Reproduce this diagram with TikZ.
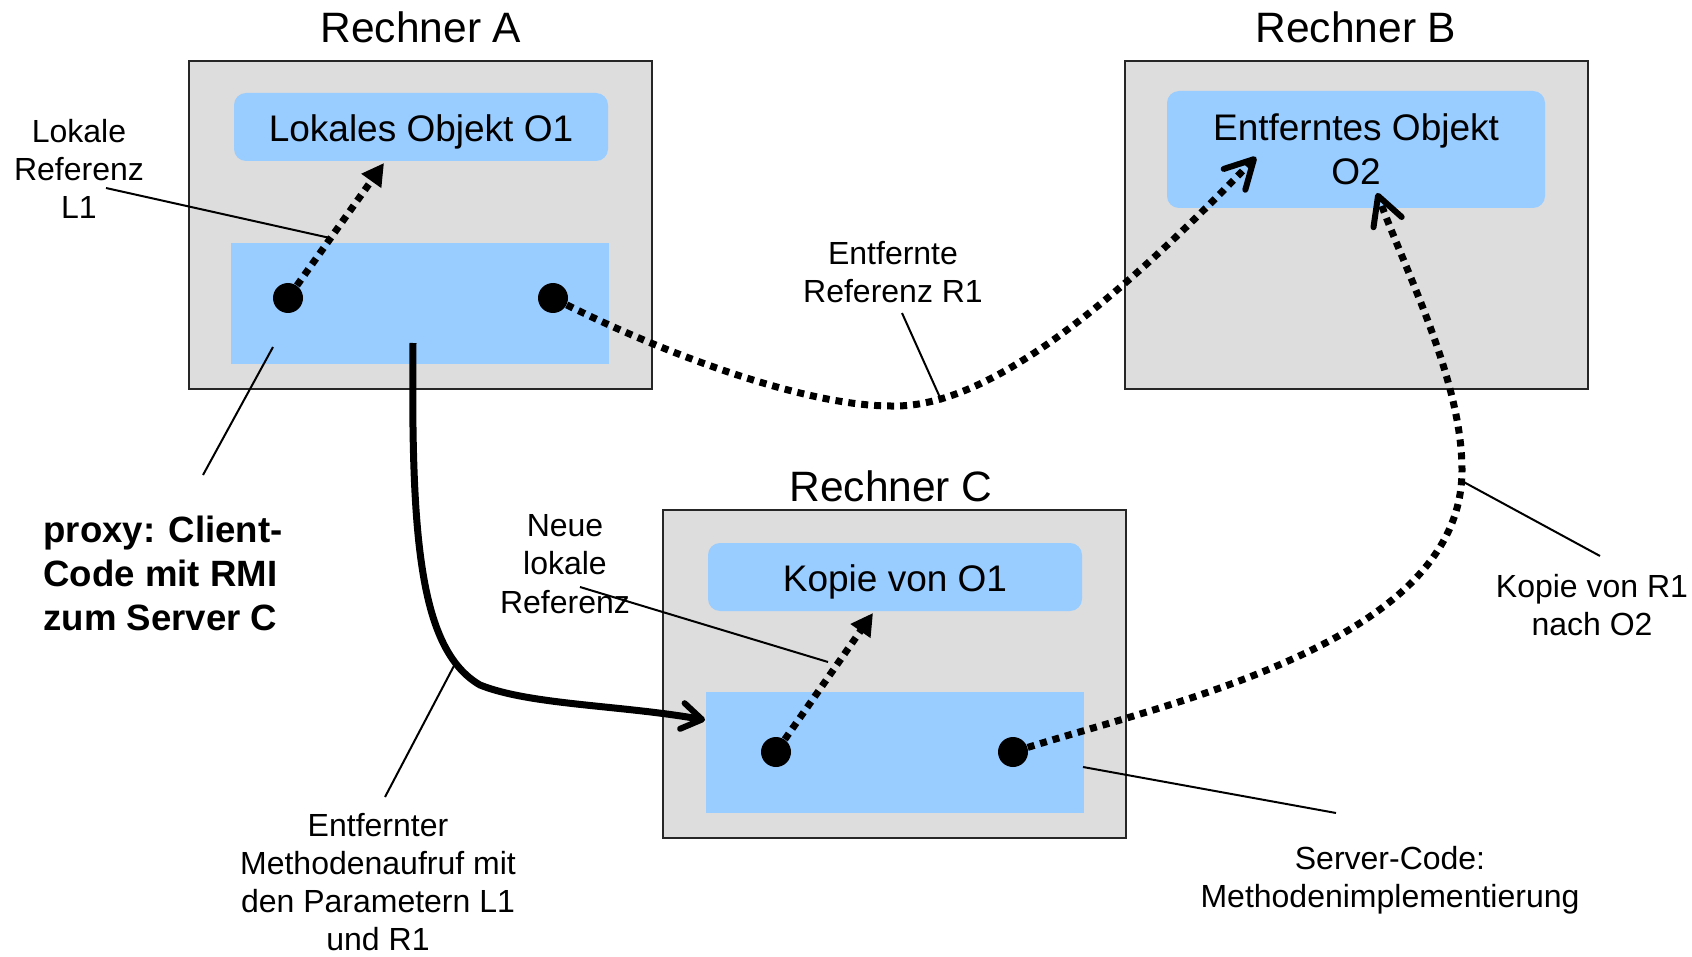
\documentclass[tikz,border=0pt]{standalone}
\usepackage{fontspec}
\setmainfont{Liberation Sans}
\usetikzlibrary{arrows.meta}
\definecolor{boxgray}{HTML}{DDDDDD}
\definecolor{objblue}{HTML}{99CCFF}
\begin{document}
\begin{tikzpicture}[x=0.5pt,y=-0.5pt,
  rechner/.style={draw=black!85,line width=1pt,fill=boxgray,minimum width=231.5pt,minimum height=164pt,inner sep=0pt},
  objbox/.style={fill=objblue,rounded corners=6pt,minimum width=187pt,minimum height=34pt,inner sep=0pt,font=\fontsize{18.5}{22}\selectfont},
  codebox/.style={fill=objblue,minimum width=189pt,minimum height=60.5pt,inner sep=0pt},
  refdot/.style={circle,fill=black,minimum size=15pt,inner sep=0pt},
  title/.style={anchor=base,font=\fontsize{21.25}{25}\selectfont,inner sep=0pt},
  lbl/.style={align=center,font=\fontsize{16}{19.1}\selectfont,inner sep=0pt},
  pointer/.style={line width=1pt},
  refarrow/.style={line width=3.5pt,dash pattern=on 3.5pt off 3pt,-{Triangle[length=11pt,width=11.5pt]}},
  remarrow/.style={line width=3.5pt,dash pattern=on 3.5pt off 3pt,-{Straight Barb[length=14pt,width=15pt,line width=3pt,round]}},
  callarrow/.style={line width=3.5pt,-{Straight Barb[length=10pt,width=13pt,line width=3pt,round]}},
]
\useasboundingbox (0,0) rectangle (1692,957);

% titles
\node[title] (tA) at (421,43) {Rechner A};
\node[title] (tB) at (1356,43) {Rechner B};
\node[title] (tC) at (891,501) {Rechner C};

% computers
\node[rechner] (A) at (420.5,225) {};
\node[rechner] (B) at (1356,225) {};
\node[rechner] (C) at (894.5,674) {};

% objects
\node[objbox,text height=15pt,text depth=0pt] (O1) at (421,127) {Lokales Objekt O1};
\node[objbox,minimum width=189pt,minimum height=58.5pt,align=center] (O2) at (1356,149.5) {Entferntes Objekt\\O2};
\node[objbox,text height=14pt,text depth=0pt] (K1) at (895,577) {Kopie von O1};

% code areas
\node[codebox] (client) at (420,303.5) {};
\node[codebox] (server) at (895,752.5) {};

% reference dots
\node[refdot] (a1) at (288,298) {};
\node[refdot] (a2) at (553,298) {};
\node[refdot] (c1) at (776,752) {};
\node[refdot] (c2) at (1013,752) {};

% arrow end points
\coordinate (ta) at (384,163);
\coordinate (tc) at (873,613);
\coordinate (tb1) at (1256,157);
\coordinate (tb2) at (1377,193);
\coordinate (callstart) at (413,343);
\coordinate (tcall) at (705,720);

% labels
\node[lbl] (lL1) at (79,169) {Lokale\\Referenz\\L1};
\node[lbl,align=left,anchor=west,font=\fontsize{18.3}{22}\selectfont\bfseries] (lproxy) at (43,573) {proxy: Client-\\Code mit RMI\\zum Server C};
\node[lbl] (lR1) at (893,272) {Entfernte\\Referenz R1};
\node[lbl] (lneu) at (565,564) {Neue\\lokale\\Referenz};
\node[lbl] (lkopie) at (1592,605) {Kopie von R1\\nach O2};
\node[lbl] (lcall) at (378,882) {Entfernter\\Methodenaufruf mit\\den Parametern L1\\und R1};
\node[lbl] (lserver) at (1390,880) {Server-Code:\\Methodenimplementierung};

% pointer line ends
\coordinate (pL1s) at (106,188);   \coordinate (pL1e) at (330,238);
\coordinate (pPxs) at (273,347);   \coordinate (pPxe) at (203,475);
\coordinate (pR1s) at (902,313);   \coordinate (pR1e) at (942,402);
\coordinate (pNes) at (580,587);   \coordinate (pNee) at (828,662);
\coordinate (pKos) at (1460,480);  \coordinate (pKoe) at (1600,556);
\coordinate (pCas) at (385,797);   \coordinate (pCae) at (456,662);
\coordinate (pSvs) at (1083,767);  \coordinate (pSve) at (1336,813);

% local references
\draw[refarrow] (a1) -- (ta);
\draw[refarrow] (c1) -- (tc);

% remote references
\draw[remarrow] (a2) .. controls (653,348) and (800,406) .. (891,406)
                     .. controls (970,408) and (1080,340) .. (tb1);
\draw[remarrow] (c2) .. controls (1180,700) and (1462,640) .. (1462,470)
                     .. controls (1462,380) and (1405,270) .. (tb2);

% remote method call
\draw[callarrow] (callstart) .. controls (411,540) and (420,650) .. (480,685)
                            .. controls (530,705) and (620,705) .. (tcall);

% pointer lines
\draw[pointer] (pL1s) -- (pL1e);
\draw[pointer] (pPxs) -- (pPxe);
\draw[pointer] (pR1s) -- (pR1e);
\draw[pointer] (pNes) -- (pNee);
\draw[pointer] (pKos) -- (pKoe);
\draw[pointer] (pCas) -- (pCae);
\draw[pointer] (pSvs) -- (pSve);
\end{tikzpicture}
\end{document}
